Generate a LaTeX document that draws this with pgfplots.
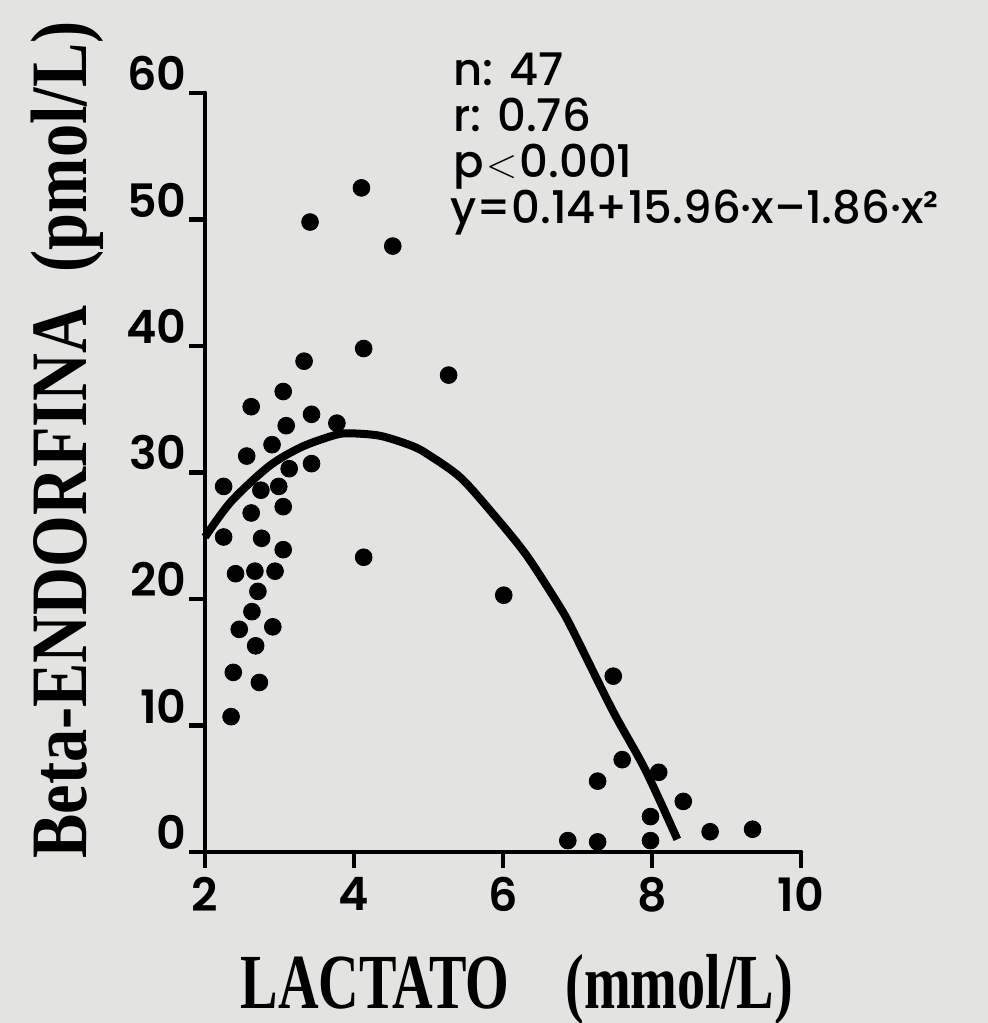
\documentclass[border=0pt]{standalone}
\usepackage{pgfplots}
\pgfplotsset{compat=1.18}
\usepackage{fontspec}
\usepackage{graphicx}
\newfontfamily\pop{Poppins SemiBold}
\newfontfamily\popm{Poppins Medium}
\newfontfamily\lserif{Liberation Serif}
\definecolor{bg}{RGB}{227,227,225}

\begin{document}
\begin{tikzpicture}
\path[use as bounding box] (0pt,0pt) rectangle (494pt,511.5pt);
\fill[bg] (0pt,0pt) rectangle (494pt,511.5pt);
\begin{axis}[
 at={(102.5pt,85.5pt)}, anchor=south west,
 scale only axis, width=298pt, height=379.5pt,
 xmin=2, xmax=10, ymin=0, ymax=60,
 axis lines=left,
 axis line style={-, line width=2.3pt, line cap=round},
 xtick={2,4,6,8,10}, ytick={0,10,20,30,40,50,60},
 tick align=outside, major tick length=8pt,
 tick style={line width=2.3pt, black},
 /pgf/number format/assume math mode=true,
 ticklabel style={font=\pop\fontsize{23}{23}\selectfont},
 xticklabel style={anchor=north, yshift=-1pt},
 yticklabel style={anchor=south east, inner sep=1pt},
 clip=false,
]
\addplot[black, line width=4pt, smooth, no marks] coordinates {
(2.0,24.9) (2.35,27.7) (2.86,30.5) (3.29,32.0) (3.71,32.9) (3.92,33.1)
(4.35,32.9) (4.78,32.1) (5.0,31.4) (5.43,29.6) (5.87,26.7) (6.31,23.5)
(6.75,19.5) (6.93,17.6) (7.47,11.2) (7.91,6.5) (8.34,1.0)
};
\addplot[only marks, mark=*, mark size=4.2pt, black] coordinates {
(4.10,52.5) (3.41,49.8) (4.52,47.9) (4.13,39.8) (3.33,38.8) (5.27,37.7)
(3.05,36.4) (2.62,35.2) (3.43,34.6) (3.77,33.9) (3.09,33.7) (2.90,32.2)
(2.56,31.3) (3.43,30.7) (3.13,30.3) (2.25,28.9) (2.99,28.9) (2.75,28.6)
(3.05,27.3) (2.62,26.8) (2.25,24.9) (2.76,24.8) (3.05,23.9) (4.13,23.3)
(2.41,22.0) (2.67,22.2) (2.94,22.2) (2.71,20.6) (2.63,19.0) (2.46,17.6)
(2.91,17.8) (2.68,16.3) (2.38,14.2) (2.73,13.4) (2.35,10.7) (6.01,20.3)
(7.48,13.9) (7.60,7.3) (7.27,5.6) (8.09,6.3) (8.42,4.0) (7.98,2.8)
(8.78,1.6) (9.35,1.8) (6.87,0.9) (7.27,0.8) (7.98,0.9)
};
\end{axis}
\node[rotate=90, anchor=base, inner sep=0pt, font=\lserif\bfseries\fontsize{40}{40}\selectfont] at (43pt,291.5pt) {\scalebox{0.83}[1]{Beta-ENDORFINA\hspace{0.5em}(pmol/L)}};
\node[anchor=base, inner sep=0pt, font=\lserif\bfseries\fontsize{39}{39}\selectfont] at (258.5pt,7pt) {\scalebox{0.72}[1]{LACTATO\hspace{1em}(mmol/L)}};
\begin{scope}[every node/.style={anchor=base west, inner sep=0pt, font=\popm\fontsize{22.5}{22.5}\selectfont}]
\node at (226.5pt,468.5pt) {n: 47};
\node at (226.5pt,445.5pt) {r: 0.76};
\node at (226.5pt,422.5pt) {p\kern1pt$<$\kern1pt0.001};
\node at (225pt,399.5pt) {y=0.14+15.96·x–1.86·x²};
\end{scope}
\end{tikzpicture}
\end{document}
